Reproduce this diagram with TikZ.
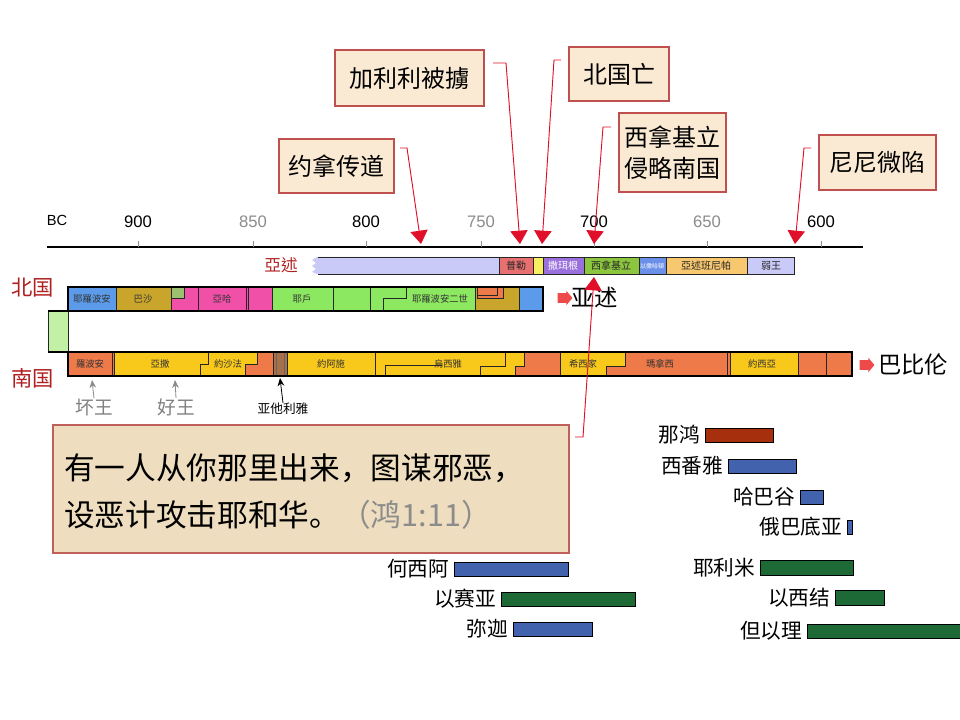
\documentclass[tikz,border=0pt]{standalone}
\usepackage{fontspec}
\setmainfont{Liberation Sans}
\newfontfamily\cjk{Noto Sans CJK SC}
\newfontfamily\cjktc{Noto Sans CJK TC}
\usetikzlibrary{arrows.meta,shapes.arrows}
\definecolor{cbox}{HTML}{FBEAD3}
\definecolor{cboxline}{HTML}{C0504D}
\definecolor{leadred}{HTML}{E0102A}
\definecolor{kred}{HTML}{B02020}
\definecolor{njblue}{HTML}{5B9BEA}
\definecolor{ngold}{HTML}{C9A52C}
\definecolor{npink}{HTML}{F050A8}
\definecolor{ngreen}{HTML}{8CE860}
\definecolor{nsmall}{HTML}{9CC070}
\definecolor{sorange}{HTML}{EE7A4A}
\definecolor{syellow}{HTML}{F8C81A}
\definecolor{sbrown}{HTML}{A5704A}
\definecolor{lgreen}{HTML}{C2F0A4}
\definecolor{alav}{HTML}{CACAF8}
\definecolor{asalmon}{HTML}{E87070}
\definecolor{ayellow}{HTML}{F8F060}
\definecolor{apurple}{HTML}{9A70DC}
\definecolor{agreen}{HTML}{8CC63F}
\definecolor{ablue}{HTML}{6A90EA}
\definecolor{aorange}{HTML}{F8C870}
\definecolor{pred}{HTML}{A6300E}
\definecolor{pblue}{HTML}{4262AE}
\definecolor{pgreen}{HTML}{1E6A36}
\definecolor{quotefill}{HTML}{EEDDBF}
\definecolor{quoteline}{HTML}{C0605A}
\definecolor{arrred}{HTML}{EE4A4A}
\newcommand\pbarnode[6]{\node[pbar, fill=#6, minimum width={(#4-#2)*0.75pt}, minimum height={(#5-#3)*0.75pt}] (#1) at ({(#2+#4)/2},{(#3+#5)/2}) {};}
\begin{document}
\begin{tikzpicture}[x=0.75pt,y=-0.75pt,
 seg/.style={draw=black!85, line width=0.6pt},
 stepline/.style={draw=black!85, line width=0.6pt},
 blbl/.style={font=\cjktc\fontsize{7}{7}\selectfont, inner sep=0pt, text=black!80},
 albl/.style={font=\cjktc\fontsize{7.5}{7.5}\selectfont, inner sep=0pt, text=black!85},
 callout/.style={draw=cboxline, fill=cbox, line width=0.8pt, font=\cjk\fontsize{18}{23}\selectfont, align=center, inner sep=0pt},
 leader/.style={draw=leadred, line width=0.7pt, -{Triangle[width=13pt,length=10pt]}},
 ticklbl/.style={font=\fontsize{12.5}{12.5}\selectfont, inner sep=0pt},
 pname/.style={font=\cjk\fontsize{15.5}{16}\selectfont, anchor=east, inner sep=0pt},
 pbar/.style={draw=black, line width=0.6pt, inner sep=0pt, outer sep=0pt},
 kingdom/.style={font=\cjk\fontsize{16}{16}\selectfont, text=kred, inner sep=0pt},
 bigtxt/.style={font=\cjk\fontsize{17.5}{18}\selectfont, inner sep=0pt, anchor=west},
 bigarrow/.style={single arrow, fill=arrred, draw=none, minimum height=11pt, inner sep=3.5pt, single arrow head extend=1.8pt, single arrow tip angle=100},
 kinglbl/.style={font=\cjk\fontsize{14}{14}\selectfont, text=black!50, inner sep=0pt},
 kingarrow/.style={draw=black!45, line width=0.6pt, -{Stealth[width=5pt,length=6pt]}},
 quotetxt/.style={font=\cjk\fontsize{23}{23}\selectfont, inner sep=0pt, anchor=west}
]
\useasboundingbox (0,0) rectangle (960,720);
\fill[white] (0,0) rectangle (960,720);

% ---------- axis ----------
\draw[line width=1pt] (47,247) -- (863,247);
\foreach \xx/\yr/\cc in {138/900/black,253/850/black!45,366/800/black,481/750/black!45,594/700/black,707/650/black!45,821/600/black}{
  \draw[black!45, line width=0.6pt] (\xx,247) -- (\xx,241);
  \node[ticklbl, text=\cc] (tick\yr) at (\xx,222) {\yr};
}
\node[font=\fontsize{11}{11}\selectfont, inner sep=0pt] (bc) at (57,220) {BC};

% ---------- Assyria bar ----------
\fill[alav] (499,257) -- (317,257) -- (312,260) -- (316,263) -- (312,266) -- (316,269) -- (312,272) -- (317,274) -- (499,274) -- cycle;
\draw[black!85, line width=0.6pt] (318,257) -- (499,257) (318,274) -- (499,274);
\filldraw[seg, fill=asalmon] (499,257) rectangle (533,274);
\filldraw[seg, fill=ayellow] (533,257) rectangle (543,274);
\filldraw[seg, fill=apurple] (543,257) rectangle (584,274);
\filldraw[seg, fill=agreen] (584,257) rectangle (639,274);
\filldraw[seg, fill=ablue] (639,257) rectangle (666,274);
\filldraw[seg, fill=aorange] (666,257) rectangle (747,274);
\filldraw[seg, fill=alav] (747,257) rectangle (794,274);
\node[albl] (pul) at (516,266) {普勒};
\node[albl, text=white] (sargon) at (563,266) {撒珥根};
\node[albl] (senn) at (611,266) {西拿基立};
\node[font=\cjktc\fontsize{4.5}{4.5}\selectfont, inner sep=0pt, text=white] (esar) at (652,266) {以撒哈頓};
\node[albl] (ashur) at (706,266) {亞述班尼帕};
\node[albl] (weak) at (771,266) {弱王};
\node[font=\cjktc\fontsize{12.5}{12.5}\selectfont, text=kred, inner sep=0pt] (assyr) at (281,265) {亞述};

% ---------- North kingdom ----------
\node[kingdom] (north) at (33,288) {北国};
\filldraw[fill=lgreen, draw=black!85, line width=0.6pt] (48,311) rectangle (68,352);
\filldraw[seg, fill=njblue] (68,287) rectangle (116,311);
\filldraw[seg, fill=ngold] (116,287) rectangle (171,311);
\filldraw[seg, fill=npink] (171,287) rectangle (198,311);
\filldraw[seg, fill=nsmall] (171,287) rectangle (184,298);
\draw[stepline] (171,298) -- (184,298) -- (184,287);
\filldraw[seg, fill=npink] (198,287) rectangle (246,311);
\filldraw[seg, fill=npink] (246,287) rectangle (248,311);
\filldraw[seg, fill=npink] (248,287) rectangle (272,311);
\filldraw[seg, fill=ngreen] (272,287) rectangle (333,311);
\filldraw[seg, fill=ngreen] (333,287) rectangle (370,311);
\filldraw[seg, fill=ngreen] (370,287) rectangle (475,311);
\draw[stepline] (383,311) -- (383,298) -- (406,298) -- (406,287);
\filldraw[seg, fill=ngold] (475,287) rectangle (519,311);
\filldraw[seg, fill=sorange] (477,287) rectangle (503,298);
\draw[stepline] (477,295) -- (497,295) -- (497,287);
\filldraw[seg, fill=njblue] (519,287) rectangle (543,311);
\draw[black, line width=0.9pt] (68,287) rectangle (543,311);
\draw[black, line width=0.9pt] (48,311) -- (68,311);
\node[blbl] (jer1) at (92,299) {耶羅波安};
\node[blbl] (baasha) at (143,299) {巴沙};
\node[blbl] (ahab) at (222,299) {亞哈};
\node[blbl] (jehu) at (302,299) {耶戶};
\node[blbl] (jer2) at (440,299) {耶羅波安二世};
\node[bigarrow] (narr) at (563,298) {};
\node[bigtxt] (ntxt) at (571,298) {亚述};

% ---------- South kingdom ----------
\node[kingdom] (south) at (33,378) {南国};
\filldraw[seg, fill=sorange] (68,352) rectangle (112,376);
\filldraw[seg, fill=sorange] (112,352) rectangle (114,376);
\filldraw[seg, fill=syellow] (114,352) rectangle (273,376);
\draw[stepline] (200,376) -- (200,364) -- (208,364) -- (208,352);
\filldraw[seg, fill=sorange] (245,376) -- (245,364) -- (257,364) -- (257,352) -- (273,352) -- (273,376) -- cycle;
\filldraw[seg, fill=sbrown] (273,352) rectangle (287,376);
\draw[black!60, line width=0.6pt] (276,352) -- (276,376) (284,352) -- (284,376);
\filldraw[seg, fill=syellow] (287,352) rectangle (375,376);
\filldraw[seg, fill=syellow] (375,352) rectangle (560,376);
\draw[stepline] (385,376) -- (385,365) -- (442,365);
\draw[stepline] (480,376) -- (480,366) -- (505,366) -- (505,352);
\filldraw[seg, fill=sorange] (515,376) -- (515,366) -- (524,366) -- (524,352) -- (560,352) -- (560,376) -- cycle;
\filldraw[seg, fill=syellow] (560,352) rectangle (727,376);
\filldraw[seg, fill=sorange] (606,376) -- (606,366) -- (625,366) -- (625,352) -- (727,352) -- (727,376) -- cycle;
\filldraw[seg, fill=sorange] (727,352) rectangle (730,376);
\filldraw[seg, fill=syellow] (730,352) rectangle (798,376);
\filldraw[seg, fill=sorange] (798,352) rectangle (826,376);
\filldraw[seg, fill=sorange] (826,352) rectangle (852,376);
\draw[black, line width=0.9pt] (68,352) rectangle (852,376);
\draw[black, line width=0.9pt] (48,352) -- (68,352);
\node[blbl] (rehob) at (90,364) {羅波安};
\node[blbl] (asa) at (160,364) {亞撒};
\node[blbl] (jehosh) at (228,364) {約沙法};
\node[blbl] (joash) at (331,364) {約阿施};
\node[blbl] (uzziah) at (448,364) {烏西雅};
\node[blbl] (hezek) at (583,364) {希西家};
\node[blbl] (manas) at (660,364) {瑪拿西};
\node[blbl] (josiah) at (762,364) {約西亞};
\node[bigarrow] (sarr) at (865,365) {};
\node[bigtxt] (stxt) at (878,365) {巴比伦};

\node[kinglbl] (bad) at (94,407) {坏王};
\node[kinglbl] (good) at (176,407) {好王};
\node[font=\cjk\fontsize{9.5}{9.5}\selectfont, inner sep=0pt] (athal) at (283,409) {亚他利雅};
\coordinate (badpt) at (92,380);
\coordinate (goodpt) at (175,380);
\coordinate (athpt) at (280,378);
\draw[kingarrow] (bad.north) -- (badpt);
\draw[kingarrow] (good.north) -- (goodpt);
\draw[draw=black, line width=0.6pt, -{Stealth[width=5pt,length=6pt]}] (athal.north) -- (athpt);

% ---------- callouts ----------
\node[callout, minimum width={115*0.75pt}, minimum height={54*0.75pt}] (jonah) at (336.5,166) {约拿传道};
\node[callout, minimum width={149*0.75pt}, minimum height={56*0.75pt}] (galil) at (409.5,78) {加利利被擄};
\node[callout, minimum width={100*0.75pt}, minimum height={54*0.75pt}] (nfall) at (619,74) {北国亡};
\node[callout, minimum width={107*0.75pt}, minimum height={79*0.75pt}] (sennbox) at (672.5,152.5) {西拿基立\\侵略南国};
\node[callout, minimum width={117*0.75pt}, minimum height={55*0.75pt}] (ninev) at (877.5,162.5) {尼尼微陷};

\coordinate (jonahS) at (400,148);
\coordinate (jonahC) at (407,148);
\coordinate (jonahT) at (421,244);
\coordinate (galilS) at (493,63);
\coordinate (galilC) at (506,63);
\coordinate (galilT) at (520,244);
\coordinate (nfallS) at (561,60);
\coordinate (nfallC) at (554,60);
\coordinate (nfallT) at (542,244);
\coordinate (sennS) at (611,127);
\coordinate (sennC) at (603,127);
\coordinate (sennT) at (594,244);
\coordinate (ninevS) at (811,148);
\coordinate (ninevC) at (804,148);
\coordinate (ninevT) at (795,244);
\draw[leader] (jonahS) -- (jonahC) -- (jonahT);
\draw[leader] (galilS) -- (galilC) -- (galilT);
\draw[leader] (nfallS) -- (nfallC) -- (nfallT);
\draw[leader] (sennS) -- (sennC) -- (sennT);
\draw[leader] (ninevS) -- (ninevC) -- (ninevT);

% ---------- quote ----------
\node[draw=quoteline, fill=quotefill, line width=0.8pt, minimum width={516*0.75pt}, minimum height={128*0.75pt}, inner sep=0pt] (quote) at (311,489) {};
\node[quotetxt] (q1) at (64,468) {有一人从你那里出来，图谋邪恶，};
\node[quotetxt] (q2) at (64,515) {设恶计攻击耶和华。\textcolor{black!45}{（鸿1:11）}};
\coordinate (quoteS) at (575,437);
\coordinate (quoteC) at (583,437);
\coordinate (quoteT) at (594,277);
\draw[leader] (quoteS) -- (quoteC) -- (quoteT);

% ---------- prophets ----------
\pbarnode{nahum}{705}{428}{773}{442}{pred}
\pbarnode{zeph}{728}{459}{796}{473}{pblue}
\pbarnode{habak}{800}{490}{823}{504}{pblue}
\pbarnode{obad}{847}{520}{852}{534}{pblue}
\pbarnode{jerem}{760}{560}{853}{575}{pgreen}
\pbarnode{ezek}{835}{590}{884}{605}{pgreen}
\pbarnode{daniel}{807}{624}{960}{638}{pgreen}
\pbarnode{hosea}{454}{562}{568}{576}{pblue}
\pbarnode{isaiah}{501}{592}{635}{606}{pgreen}
\pbarnode{micah}{513}{622}{592}{636}{pblue}
\node[pname] (lnahum) at ([xshift=-3.5pt]nahum.west) {那鸿};
\node[pname] (lzeph) at ([xshift=-3.5pt]zeph.west) {西番雅};
\node[pname] (lhabak) at ([xshift=-3.5pt]habak.west) {哈巴谷};
\node[pname] (lobad) at ([xshift=-3.5pt]obad.west) {俄巴底亚};
\node[pname] (ljerem) at ([xshift=-3.5pt]jerem.west) {耶利米};
\node[pname] (lezek) at ([xshift=-3.5pt]ezek.west) {以西结};
\node[pname] (ldaniel) at ([xshift=-3.5pt]daniel.west) {但以理};
\node[pname] (lhosea) at ([xshift=-3.5pt]hosea.west) {何西阿};
\node[pname] (lisaiah) at ([xshift=-3.5pt]isaiah.west) {以赛亚};
\node[pname] (lmicah) at ([xshift=-3.5pt]micah.west) {弥迦};
\end{tikzpicture}
\end{document}
